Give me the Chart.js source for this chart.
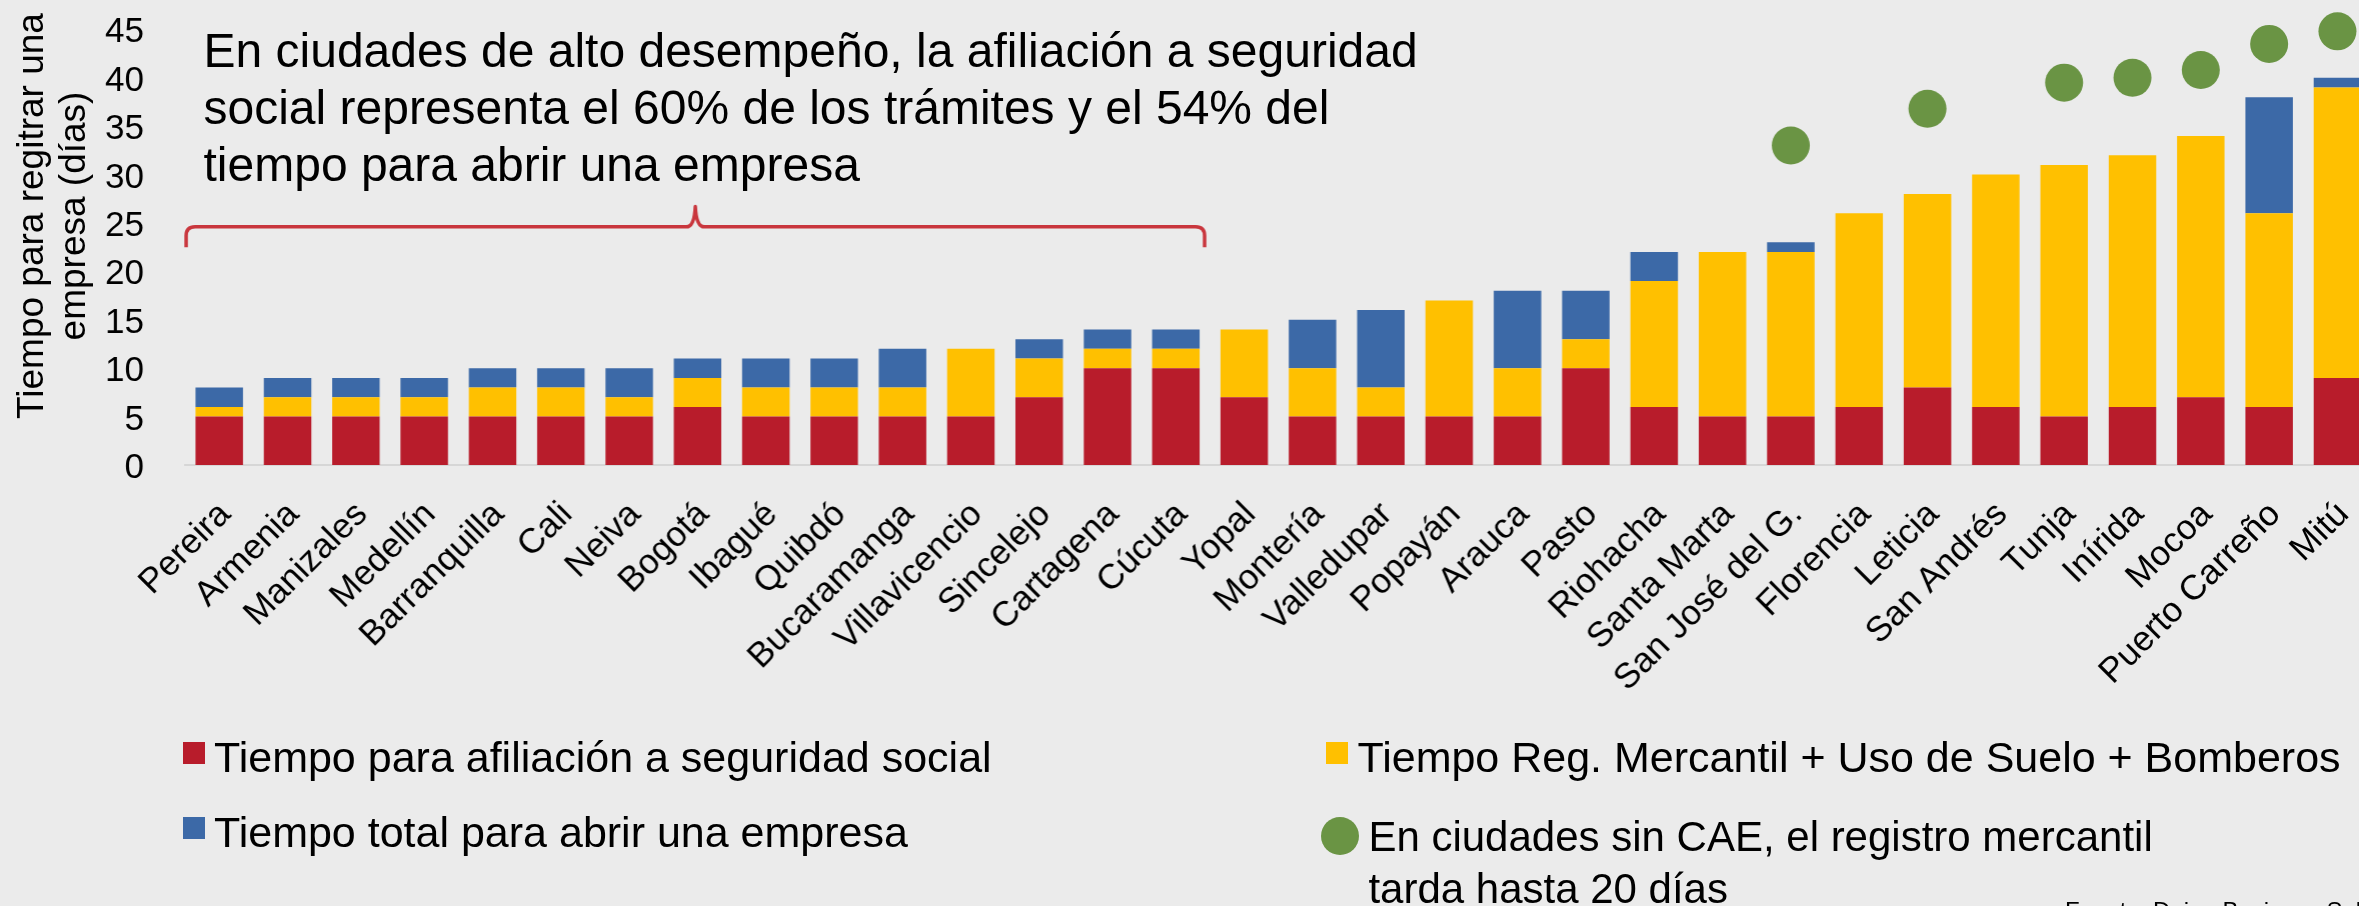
<!DOCTYPE html>
<html>
<head>
<meta charset="utf-8">
<script src="https://cdn.jsdelivr.net/npm/chart.js@4.4.1/dist/chart.umd.min.js"></script>
<style>
  html, body { margin:0; padding:0; background:#EBEBEB; overflow:hidden; width:2359px; height:906px; }
  #clip { position:relative; width:2359px; height:906px; overflow:hidden; background:#EBEBEB; }
  #wrap { position:relative; width:2450px; height:906px; }
  #c { position:absolute; left:0; top:0; }
  .t { position:absolute; font-family:'Liberation Sans', Arial, sans-serif; color:#000; white-space:pre; margin:0; }
  #ytitle { width:500px; height:84px; left:-198.5px; top:174px; font-size:37px; line-height:42px; text-align:center; transform:rotate(-90deg); transform-origin:50% 50%; }
  #note { left:203.5px; top:23.3px; font-size:48px; line-height:56.7px; }
  #source { left:2065px; top:897px; font-size:24px; line-height:27px; }
  .mk { position:absolute; }
</style>
</head>
<body>
<div id="clip"><div id="wrap">
  <canvas id="c" width="2372" height="906"></canvas>
  <div id="ytitle" class="t">Tiempo para regitrar una
empresa (días)</div>
  <div id="note" class="t">En ciudades de alto desempeño, la afiliación a seguridad
social representa el 60% de los trámites y el 54% del
tiempo para abrir una empresa</div>
  <div id="legend"></div>
  <div id="source" class="t">Fuente: Doing Business Subnacional Colombia 2017</div>
</div></div>
<script>
// ---------- DATA ----------
const CITIES = ['Pereira','Armenia','Manizales','Medellín','Barranquilla','Cali','Neiva','Bogotá','Ibagué','Quibdó',
  'Bucaramanga','Villavicencio','Sincelejo','Cartagena','Cúcuta','Yopal','Montería','Valledupar','Popayán','Arauca',
  'Pasto','Riohacha','Santa Marta','San José del G.','Florencia','Leticia','San Andrés','Tunja','Inírida','Mocoa',
  'Puerto Carreño','Mitú'];
// Días para afiliación a seguridad social
const AFILIACION = [5,5,5,5,5,5,5,6,5,5, 5,5,7,10,10,7,5,5,5,5, 10,6,5,5,6,8,6,5,6,7, 6,9];
// Días Reg. Mercantil + Uso de Suelo + Bomberos
const REG_MERCANTIL = [1,2,2,2,3,3,2,3,3,3, 3,7,4,2,2,7,5,3,12,5, 3,13,17,17,20,20,24,26,26,27, 20,30];
// Tiempo total para abrir una empresa
const TOTAL = [8,9,9,9,10,10,10,11,11,11, 12,12,13,14,14,14,15,16,17,18, 18,22,22,23,26,28,30,31,32,34, 38,40];
// Ciudades sin CAE (marcador verde)
const SIN_CAE = [null,null,null,null,null,null,null,null,null,null,
  null,null,null,null,null,null,null,null,null,null,
  null,null,null,33,null,36.8,null,39.5,40,40.8, 43.5,44.8];
const Y_TICKS = [0,5,10,15,20,25,30,35,40,45];
const LABELS = {
  afil: 'Tiempo para afiliación a seguridad social',
  reg: 'Tiempo Reg. Mercantil + Uso de Suelo + Bomberos',
  total: 'Tiempo total para abrir una empresa',
  cae: 'En ciudades sin CAE, el registro mercantil\ntarda hasta 20 días'
};
const BRACE_FROM = 'Pereira', BRACE_TO = 'Cúcuta';

// remainder of total above the two components
const RESTO = TOTAL.map((t, i) => t - AFILIACION[i] - REG_MERCANTIL[i]);

const FONT = "'Liberation Sans', Arial, sans-serif";
const COLORS = { red:'#B81C2B', yellow:'#FFC000', blue:'#3C69A7', green:'#6A9444', brace:'#C9363D' };

const bracePlugin = {
  id: 'brace',
  afterDatasetsDraw(chart) {
    const { ctx, scales: { x, y } } = chart;
    const i0 = CITIES.indexOf(BRACE_FROM), i1 = CITIES.indexOf(BRACE_TO);
    const w = x.getPixelForValue(1) - x.getPixelForValue(0);
    const L = x.getPixelForValue(i0) - 0.485 * w;
    const R = x.getPixelForValue(i1) + 0.42 * w;
    const M = (L + R) / 2;
    const yH = y.getPixelForValue(24.6), yE = y.getPixelForValue(22.5), yT = y.getPixelForValue(26.7);
    const r = 9;
    ctx.save();
    ctx.strokeStyle = COLORS.brace;
    ctx.lineWidth = 3.5;
    ctx.lineJoin = 'round';
    ctx.beginPath();
    ctx.moveTo(L, yE);
    ctx.lineTo(L, yH + r);
    ctx.quadraticCurveTo(L, yH, L + r, yH);
    ctx.lineTo(M - r, yH);
    ctx.quadraticCurveTo(M - 1, yH, M, yT);
    ctx.quadraticCurveTo(M + 1, yH, M + r, yH);
    ctx.lineTo(R - r, yH);
    ctx.quadraticCurveTo(R, yH, R, yH + r);
    ctx.lineTo(R, yE);
    ctx.stroke();
    ctx.restore();
  }
};

const chart = new Chart(document.getElementById('c'), {
  type: 'bar',
  data: {
    labels: CITIES,
    datasets: [
      { label: LABELS.afil, data: AFILIACION, backgroundColor: COLORS.red, stack: 's' },
      { label: LABELS.reg, data: REG_MERCANTIL, backgroundColor: COLORS.yellow, stack: 's' },
      { label: LABELS.total, data: RESTO, backgroundColor: COLORS.blue, stack: 's' },
      { type: 'line', label: LABELS.cae, data: SIN_CAE, showLine: false, stack: 'cae',
        pointRadius: 19, pointHoverRadius: 19, pointBorderWidth: 0,
        pointBackgroundColor: COLORS.green, backgroundColor: COLORS.green, borderColor: COLORS.green,
        clip: false, order: -1 }
    ]
  },
  options: {
    responsive: false,
    maintainAspectRatio: false,
    devicePixelRatio: 1,
    animation: false,
    events: [],
    layout: { padding: { top: 29.4, right: 1.4, left: 0, bottom: 0 } },
    datasets: { bar: { barPercentage: 0.695, categoryPercentage: 1.0, borderWidth: 0 } },
    plugins: { legend: { display: false }, tooltip: { enabled: false } },
    scales: {
      x: {
        stacked: true,
        grid: { display: false },
        border: { display: true, color: '#D6D6D6', width: 2 },
        ticks: { autoSkip: false, maxRotation: 45, minRotation: 45, padding: 21, labelOffset: 6,
                 color: '#000', font: { family: FONT, size: 35 } },
        afterFit(s) { s.height = 441; s.paddingLeft = 0; s.paddingRight = 0; }
      },
      y: {
        stacked: true, min: 0, max: 45,
        grid: { display: false },
        border: { display: false },
        ticks: { padding: 33, labelOffset: 3.3, color: '#000', font: { family: FONT, size: 35 } },
        afterBuildTicks(s) { s.ticks = Y_TICKS.map(v => ({ value: v })); },
        afterFit(s) { s.width = 185; s.paddingTop = 0; s.paddingBottom = 0; }
      }
    }
  },
  plugins: [bracePlugin]
});

// Layout correction: the last category centre sits at x = 2336.45 in the reference
(function fitWidth() {
  const target = 2336.45;
  let w = chart.width;
  for (let k = 0; k < 3; k++) {
    const p = chart.scales.x.getPixelForValue(CITIES.length - 1);
    const d = (target - p) * 32 / 31.5;
    if (Math.abs(d) < 0.3) break;
    w = w + d;
    chart.resize(w, 906);
  }
})();

// ---------- HTML legend built from datasets ----------
const LEG_POS = [
  { ds: 0, mx: 183, my: 742, shape: 'sq', tx: 214, ty: 731.4, fs: 43, lh: 52 },
  { ds: 2, mx: 183, my: 817, shape: 'sq', tx: 214, ty: 806.4, fs: 43, lh: 52 },
  { ds: 1, mx: 1326, my: 742, shape: 'sq', tx: 1357.5, ty: 731.4, fs: 43, lh: 52 },
  { ds: 3, mx: 1321, my: 816.5, shape: 'ci', tx: 1368.4, ty: 811.4, fs: 42, lh: 51.5 }
];
const legend = document.getElementById('legend');
LEG_POS.forEach(p => {
  const d = chart.data.datasets[p.ds];
  const m = document.createElement('div');
  m.className = 'mk';
  const sz = p.shape === 'sq' ? 22 : 38;
  m.style.cssText = `left:${p.mx}px;top:${p.my}px;width:${sz}px;height:${sz}px;background:${d.backgroundColor};` +
    (p.shape === 'ci' ? 'border-radius:50%;' : '');
  legend.appendChild(m);
  const t = document.createElement('div');
  t.className = 't';
  t.style.cssText = `left:${p.tx}px;top:${p.ty}px;font-size:${p.fs}px;line-height:${p.lh}px;`;
  t.textContent = d.label;
  legend.appendChild(t);
});
</script>
</body>
</html>
